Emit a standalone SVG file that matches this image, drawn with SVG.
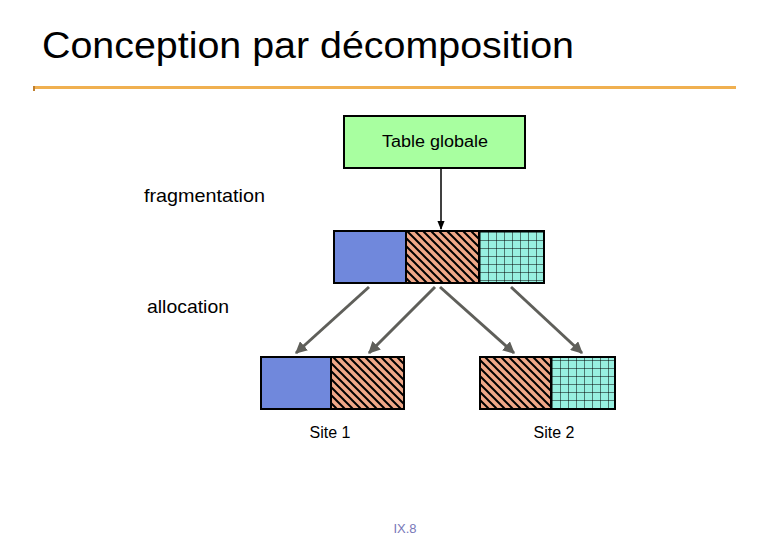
<svg xmlns="http://www.w3.org/2000/svg" width="780" height="540" viewBox="0 0 780 540">
<style>
text{font-family:"Liberation Sans",Arial,sans-serif;fill:#000}
.f{stroke:#000;stroke-width:2}
.c{stroke:#5f5f5a;stroke-width:3;fill:none;marker-end:url(#ah)}
</style>
<defs>
<pattern id="hatch" width="8" height="8" patternUnits="userSpaceOnUse">
<rect width="8" height="8" fill="#f0a888"/>
<path d="M-2,-2 L10,10 M-2,6 L2,10 M6,-2 L10,2" stroke="#000" stroke-width="2"/>
</pattern>
<pattern id="grid" width="8" height="8" patternUnits="userSpaceOnUse">
<rect width="8" height="8" fill="#98f0e0"/>
<path d="M0,0 H8 M0,0 V8" stroke="#000" stroke-width="1"/>
</pattern>
<marker id="ah" viewBox="0 0 10 10" refX="9" refY="5" markerWidth="4" markerHeight="4" orient="auto"><path d="M0,0 L10,5 L0,10 z" fill="#5f5f5a"/></marker>
<marker id="ab" viewBox="0 0 10 10" refX="9" refY="5" markerWidth="6" markerHeight="6" orient="auto"><path d="M0,1 L10,5 L0,9 z" fill="#000"/></marker>
</defs>
<text x="42" y="58" font-size="37" textLength="532" lengthAdjust="spacingAndGlyphs">Conception par décomposition</text>
<rect x="33" y="86" width="703" height="3" fill="#f0b050"/>
<rect x="33" y="86" width="2" height="5" fill="#c08030"/>
<g id="global"><rect x="344" y="116" width="181" height="52" fill="#a8ffa0" class="f"/><text x="382" y="147" font-size="16" textLength="106" lengthAdjust="spacingAndGlyphs">Table globale</text></g>
<text x="144" y="202" font-size="19" textLength="121" lengthAdjust="spacingAndGlyphs">fragmentation</text>
<text x="147" y="313" font-size="19" textLength="82" lengthAdjust="spacingAndGlyphs">allocation</text>
<g id="fragments">
<rect x="334" y="231" width="72" height="52" fill="#7088dc" class="f"/>
<rect x="406" y="231" width="73" height="52" fill="url(#hatch)" class="f"/>
<rect x="479" y="231" width="65" height="52" fill="url(#grid)" class="f"/>
</g>
<g id="site1">
<rect x="261" y="357" width="70" height="52" fill="#7088dc" class="f"/>
<rect x="331" y="357" width="73" height="52" fill="url(#hatch)" class="f"/>
<text x="330" y="438" font-size="16" text-anchor="middle">Site 1</text>
</g>
<g id="site2">
<rect x="480" y="357" width="71" height="52" fill="url(#hatch)" class="f"/>
<rect x="551" y="357" width="64" height="52" fill="url(#grid)" class="f"/>
<text x="554" y="438" font-size="16" text-anchor="middle">Site 2</text>
</g>
<g id="connectors">
<line x1="441" y1="168" x2="441" y2="229" stroke="#000" stroke-width="1.5" marker-end="url(#ab)"/>
<line x1="369" y1="287" x2="296" y2="353" class="c"/>
<line x1="435" y1="287" x2="369" y2="353" class="c"/>
<line x1="440" y1="287" x2="514" y2="353" class="c"/>
<line x1="511" y1="287" x2="582" y2="353" class="c"/>
</g>
<text x="405" y="533" font-size="13" style="fill:#7878b8" text-anchor="middle">IX.8</text>
</svg>
